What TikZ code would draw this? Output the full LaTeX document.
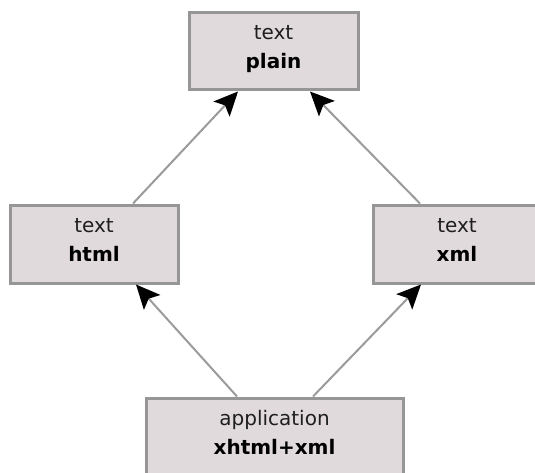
\documentclass[tikz,border=0pt]{standalone}
\usepackage{fontspec}
\setmainfont{DejaVu Sans}
\usetikzlibrary{arrows.meta}

\definecolor{boxfill}{RGB}{225,218,220}
\definecolor{boxline}{RGB}{150,150,150}
\definecolor{linkgrey}{RGB}{155,155,155}
\definecolor{labeltext}{RGB}{30,30,30}

% two-line label: media type on top, subtype in bold below
\newcommand{\mimelabel}[2]{\rule{0pt}{16pt}\textcolor{labeltext}{#1}\\\textbf{#2}\rule[-10pt]{0pt}{10pt}}

\tikzset{
  mimebox/.style={draw=boxline, line width=3pt, fill=boxfill, inner sep=0pt,
    align=center, font=\fontsize{20}{29}\selectfont},
  link/.style={draw=linkgrey, line width=2pt,
    -{Stealth[length=24pt, width=22pt, inset=5pt, fill=black, color=black]}}
}

\begin{document}
\begin{tikzpicture}[x=1pt, y=-1pt]
  \clip (0,0) rectangle (535,473);
  \fill[white] (0,0) rectangle (535,473);

  \node[mimebox, minimum width=169pt, minimum height=77pt] (plain) at (273.5,51.5) {\mimelabel{text}{plain}};
  \node[mimebox, minimum width=168pt, minimum height=78pt] (html) at (94,244) {\mimelabel{text}{html}};
  \node[mimebox, minimum width=168pt, minimum height=78pt] (xml) at (457,244) {\mimelabel{text}{xml}};
  \node[mimebox, minimum width=257pt, minimum height=77pt] (app) at (274.5,436.5) {\mimelabel{application}{xhtml+xml}};

  \draw[link] ([xshift=39pt]html.north) -- ([xshift=-35.5pt]plain.south);
  \draw[link] ([xshift=-37pt]xml.north) -- ([xshift=36.5pt]plain.south);
  \draw[link] ([xshift=-37.5pt]app.north) -- ([xshift=42pt]html.south);
  \draw[link] ([xshift=38.5pt]app.north) -- ([xshift=-36pt]xml.south);
\end{tikzpicture}
\end{document}
